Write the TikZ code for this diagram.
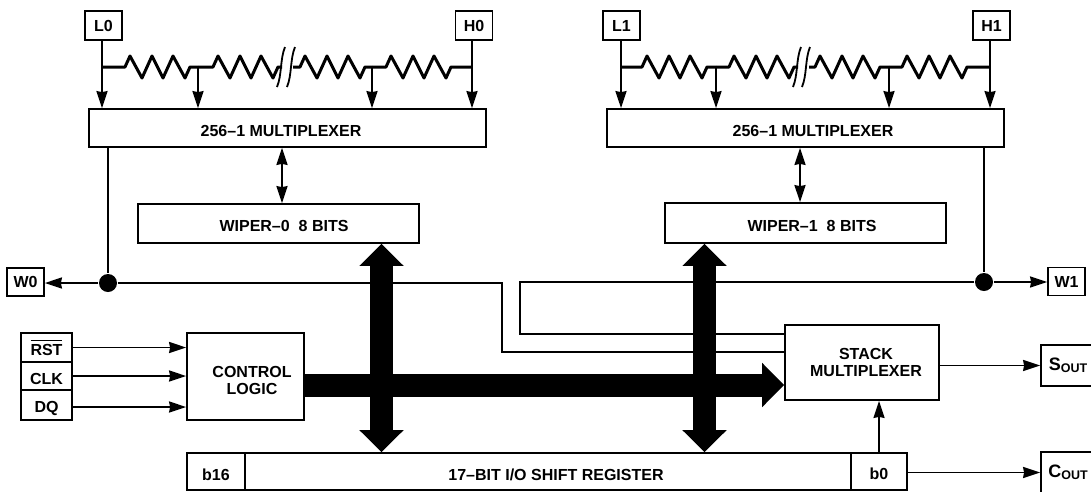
\documentclass[tikz,border=0pt]{standalone}
\usepackage{fontspec}
\setmainfont{Liberation Sans}
\usepackage{tikz}
\usetikzlibrary{arrows.meta}
\newcommand{\resistor}[3]{\draw[-, res] (#1) -- (#2) -- ++(5,-11) -- ++(12,22) -- ++(10,-22) -- ++(11,22) -- ++(10,-22) -- ++(12,22) -- ++(5,-11) -- (#3);}
\newcommand{\wirebreak}[1]{\draw[-, thin line] (#1,87) .. controls (#1+5,75) and (#1+3,59) .. (#1+8,47);}
\newcommand{\outtext}[1]{{\fontsize{18}{18}\selectfont #1}\raisebox{-2pt}{\fontsize{12.5}{12}\selectfont OUT}}
\newcommand{\low}[1]{\rule{0pt}{#1pt}}

\begin{document}
\begin{tikzpicture}[->, >={Stealth[length=17pt,width=11pt,inset=1pt]}, x=1pt, y=-1pt, line width=1.8pt,
    box/.style = {draw, inner sep=0pt, align=center, font=\fontsize{16}{17}\selectfont\bfseries},
    dot/.style = {circle, fill, inner sep=0pt, minimum size=18pt},
    res/.style = {line width=3pt, line join=round},
    thin line/.style = {line width=1.8pt},
    bus/.style = {line width=23pt, >={Triangle[width=43pt,length=22pt]}}]
    \useasboundingbox (0,0) rectangle (1091,491);
    % Nodes

    \node[box, minimum width=37pt, minimum height=29pt] (L0) at (103.5,25.5) {L0};
    \node[box, minimum width=37pt, minimum height=29pt] (H0) at (474,25.5) {H0};
    \node[box, minimum width=397pt, minimum height=38pt] (mux0) at (287.5,128) {\low{17}256--1 MULTIPLEXER\hspace*{13pt}};
    \node[box, minimum width=281pt, minimum height=39pt] (wiper0) at (278.5,223.5) {\low{17}\hspace*{11pt}WIPER--0\ \ 8 BITS};
    \node[box, minimum width=37pt, minimum height=28pt] (W0) at (25.5,282) {W0};
    \node[dot] (dot0) at (108,283) {};

    \node[box, minimum width=37pt, minimum height=29pt] (L1) at (621.5,25.5) {L1};
    \node[box, minimum width=37pt, minimum height=29pt] (H1) at (991.5,25.5) {H1};
    \node[box, minimum width=397pt, minimum height=38pt] (mux1) at (805.5,128) {\low{17}\hspace*{15pt}256--1 MULTIPLEXER};
    \node[box, minimum width=281pt, minimum height=40pt] (wiper1) at (805.5,223) {\low{17}\hspace*{13pt}WIPER--1\ \ 8 BITS};
    \node[box, minimum width=37pt, minimum height=28pt] (W1) at (1066.5,281.5) {W1};
    \node[dot] (dot1) at (984,282) {};

    \node[box, minimum width=51pt, minimum height=29pt] (RST) at (46.5,347.5) {$\overline{\mbox{\rule{0pt}{13.5pt}RST}}$};
    \node[box, minimum width=51pt, minimum height=28pt] (CLK) at (46.5,376) {\low{17}CLK};
    \node[box, minimum width=51pt, minimum height=30pt] (DQ) at (46.5,405) {\low{18}DQ};
    \node[box, minimum width=117pt, minimum height=87pt] (ctrl) at (245.5,376.5) {\low{20}\hspace*{13pt}CONTROL\\\hspace*{13pt}LOGIC};
    \node[box, minimum width=154pt, minimum height=75pt] (stack) at (862,362.5) {\hspace*{8pt}STACK\\\hspace*{8pt}MULTIPLEXER};

    \node[box, minimum width=58pt, minimum height=37pt] (b16) at (216,471.5) {\low{19}b16};
    \node[box, minimum width=606pt, minimum height=37pt] (reg) at (548,471.5) {\low{19}\hspace*{16pt}17--BIT I/O SHIFT REGISTER};
    \node[box, minimum width=56pt, minimum height=37pt] (b0) at (879,471.5) {\low{16}b0};
    \node[box, minimum width=54pt, minimum height=41pt] (sout) at (1068,365.5) {\outtext{S}};
    \node[box, minimum width=54pt, minimum height=41pt] (cout) at (1068,472.5) {\outtext{C}};

    \coordinate (t01) at (102,67);
    \coordinate (t02) at (198,67);
    \coordinate (t03) at (372,67);
    \coordinate (t04) at (472,67);
    \coordinate (t11) at (621,67);
    \coordinate (t12) at (716,67);
    \coordinate (t13) at (889,67);
    \coordinate (t14) at (990,67);

    % Edges

    \draw (L0.south -| t01) to (t01 |- mux0.north);
    \draw (t02) to (t02 |- mux0.north);
    \draw (t03) to (t03 |- mux0.north);
    \draw (H0.south -| t04) to (t04 |- mux0.north);
    \resistor{t01}{125,67}{t02}
    \resistor{t02}{213,67}{282,67}
    \wirebreak{277}
    \wirebreak{287}
    \resistor{293,67}{300,67}{t03}
    \resistor{t03}{386,67}{t04}

    \draw (L1.south -| t11) to (t11 |- mux1.north);
    \draw (t12) to (t12 |- mux1.north);
    \draw (t13) to (t13 |- mux1.north);
    \draw (H1.south -| t14) to (t14 |- mux1.north);
    \resistor{t11}{642,67}{t12}
    \resistor{t12}{729,67}{798,67}
    \wirebreak{793}
    \wirebreak{802}
    \resistor{809,67}{815,67}{t13}
    \resistor{t13}{902,67}{t14}

    \draw[<->] (mux0.south -| 282,0) to (wiper0.north -| 282,0);
    \draw[<->] (mux1.south -| 800,0) to (wiper1.north -| 800,0);
    \draw[-] (mux0.south -| dot0) to (dot0);
    \draw[-] (mux1.south -| dot1) to (dot1);
    \draw (dot0) to (W0.east |- dot0);
    \draw (dot1) to (W1.west |- dot1);

    \draw[-] (dot0) -- (502,283) -- (502,352) -- (stack.west |- 502,352);
    \draw[-] (dot1) -- (520,282) -- (520,334) -- (stack.west |- 520,334);

    \draw (RST.east) to (RST.east -| ctrl.west);
    \draw (CLK.east) to (CLK.east -| ctrl.west);
    \draw ([yshift=-2pt]DQ.east) to ([yshift=-2pt]DQ.east -| ctrl.west);

    \draw[bus, <->] (wiper0.south -| 381.5,0) to (reg.north -| 381.5,0);
    \draw[bus, <->] (wiper1.south -| 704.5,0) to (reg.north -| 704.5,0);
    \draw[bus, ->] (ctrl.east |- 304,385) to (stack.west |- 304,385);

    \draw (b0) to (b0 |- stack.south);
    \draw (stack.east |- sout) to (sout.west);
    \draw (b0.east |- cout) to (cout.west);

\end{tikzpicture}
\end{document}
